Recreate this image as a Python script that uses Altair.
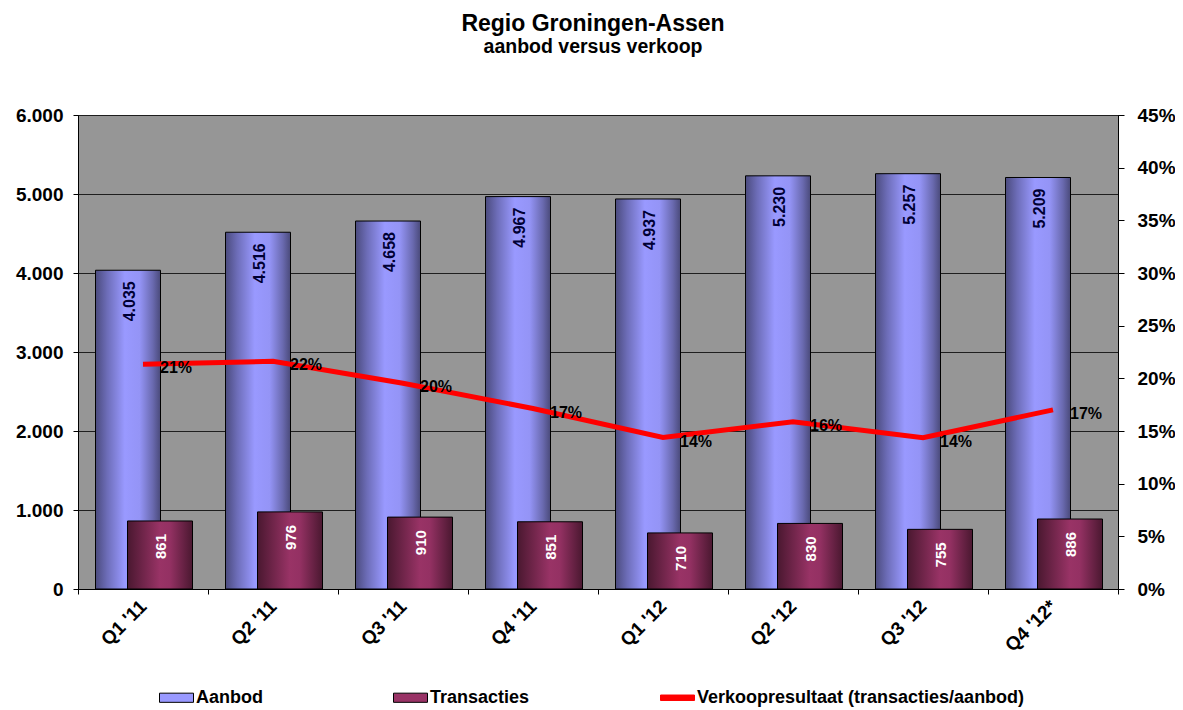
import altair as alt
import pandas as pd

# ---------------- data ----------------
categories = ["Q1 '11", "Q2 '11", "Q3 '11", "Q4 '11", "Q1 '12", "Q2 '12", "Q3 '12", "Q4 '12*"]
aanbod = [4035, 4516, 4658, 4967, 4937, 5230, 5257, 5209]
transacties = [861, 976, 910, 851, 710, 830, 755, 886]
series_names = ["Aanbod", "Transacties", "Verkoopresultaat (transacties/aanbod)"]
left_ticks = [0, 1000, 2000, 3000, 4000, 5000, 6000]
right_ticks = [0, 0.05, 0.10, 0.15, 0.20, 0.25, 0.30, 0.35, 0.40, 0.45]

df = pd.DataFrame({"cat": categories, "aanbod": aanbod, "transacties": transacties})
legend_df = pd.DataFrame({"series": series_names})

FONT = "Liberation Sans"
W, H = 1040, 474

grad_a = alt.Gradient(
    gradient="linear", x1=0, x2=1, y1=0, y2=0,
    stops=[
        alt.GradientStop(offset=0, color="#4b4b7e"),
        alt.GradientStop(offset=0.18, color="#6d6db8"),
        alt.GradientStop(offset=0.45, color="#9999ff"),
        alt.GradientStop(offset=0.68, color="#9494f6"),
        alt.GradientStop(offset=0.88, color="#6a6ab0"),
        alt.GradientStop(offset=1, color="#4a4a7a"),
    ],
)
grad_t = alt.Gradient(
    gradient="linear", x1=0, x2=1, y1=0, y2=0,
    stops=[
        alt.GradientStop(offset=0, color="#4a1830"),
        alt.GradientStop(offset=0.5, color="#993366"),
        alt.GradientStop(offset=0.65, color="#943163"),
        alt.GradientStop(offset=1, color="#4a1830"),
    ],
)

x_enc = alt.X(
    "cat:N", sort=categories,
    scale=alt.Scale(paddingInner=0, paddingOuter=0),
    axis=alt.Axis(
        title=None, labelAngle=315, labelAlign="right", labelBaseline="middle",
        tickBand="extent", tickSize=5, labelPadding=9, grid=False,
        domainColor="black", tickColor="black",
    ),
)

y_left_scale = alt.Scale(domain=[0, 6000], nice=False, zero=True)
y_right_scale = alt.Scale(domain=[0, 0.45], nice=False, zero=True)

left_axis = alt.Axis(
    title=None, values=left_ticks, orient="left",
    labelExpr="replace(format(datum.value, ','), ',', '.')",
    grid=True, gridColor="#1e1e1e", gridWidth=1, tickSize=5, labelPadding=10,
    domainColor="black", tickColor="black",
)
right_axis = alt.Axis(
    title=None, values=right_ticks, orient="right", format=".0%",
    grid=False, tickSize=6, labelPadding=13,
    domainColor="black", tickColor="black",
)

base = alt.Chart(df)

bars_a = base.mark_bar(fill=grad_a, stroke="black", strokeWidth=1, size=65, xOffset=-15).encode(
    x=x_enc,
    y=alt.Y("aanbod:Q", scale=y_left_scale, axis=left_axis),
)
bars_t = base.mark_bar(fill=grad_t, stroke="black", strokeWidth=1, size=65, xOffset=17).encode(
    x=x_enc,
    y=alt.Y("transacties:Q", scale=y_left_scale, axis=left_axis),
)
text_a = base.transform_calculate(
    lbl="replace(format(datum.aanbod, ','), ',', '.')"
).mark_text(
    angle=270, align="right", baseline="middle", dx=-11, dy=2, xOffset=-15,
    font=FONT, fontSize=16, fontWeight="bold", color="#000033",
).encode(
    x=x_enc, y=alt.Y("aanbod:Q", scale=y_left_scale, axis=left_axis), text="lbl:N",
)
text_t = base.transform_calculate(
    lbl="replace(format(datum.transacties, ','), ',', '.')"
).mark_text(
    angle=270, align="right", baseline="middle", dx=-13, dy=1, xOffset=17,
    font=FONT, fontSize=15, fontWeight="bold", color="white",
).encode(
    x=x_enc, y=alt.Y("transacties:Q", scale=y_left_scale, axis=left_axis), text="lbl:N",
)

left = alt.layer(bars_a, bars_t, text_a, text_t)

ratio_base = base.transform_calculate(
    ratio="datum.transacties / datum.aanbod",
).transform_calculate(
    plbl="format(datum.ratio, '.0%')"
)
line = ratio_base.mark_line(color="#ff0000", strokeWidth=5).encode(
    x=x_enc,
    y=alt.Y("ratio:Q", scale=y_right_scale, axis=right_axis),
)
pct_text = ratio_base.mark_text(
    align="left", baseline="middle", dx=17, dy=4,
    font=FONT, fontSize=16, fontWeight="bold", color="black",
).encode(
    x=x_enc, y=alt.Y("ratio:Q", scale=y_right_scale, axis=right_axis), text="plbl:N",
)

bar_path = "M-1,-0.27H1V0.27H-1Z"
line_path = "M-1,-0.16H1V0.16H-1Z"
leg = alt.Legend(
    title=None, orient="none", legendX=81, legendY=565, direction="horizontal",
    columns=3, columnPadding=128, labelFont=FONT, labelFontSize=18, labelFontWeight="bold",
    labelColor="black", labelOffset=2, symbolSize=1156, symbolStrokeWidth=1,
    symbolOpacity=1, padding=0, labelLimit=500,
)
legend_pts = alt.Chart(legend_df).mark_point(filled=True, opacity=0).encode(
    x=alt.value(0), y=alt.value(0),
    color=alt.Color("series:N", scale=alt.Scale(domain=series_names, range=["#9999ff", "#993366", "#ff0000"]), legend=leg),
    shape=alt.Shape("series:N", scale=alt.Scale(domain=series_names, range=[bar_path, bar_path, line_path]), legend=leg),
    stroke=alt.Stroke("series:N", scale=alt.Scale(domain=series_names, range=["#000000", "#000000", "#ff0000"]), legend=leg),
)

right = alt.layer(line, pct_text, legend_pts)

chart = alt.layer(left, right).resolve_scale(y="independent").properties(
    width=W, height=H,
    background="white",
    title=alt.TitleParams(
        text="Regio Groningen-Assen", subtitle="aanbod versus verkoop",
        font=FONT, fontSize=23, fontWeight="bold", color="black",
        subtitleFont=FONT, subtitleFontSize=19.5, subtitleFontWeight="bold", subtitleColor="black",
        subtitlePadding=2, anchor="middle", dx=-5, offset=50,
    ),
    autosize=alt.AutoSizeParams(type="none"),
    padding={"left": 70, "top": 107, "right": 57, "bottom": 120},
).configure_view(
    fill="#969696", stroke="black", strokeWidth=1,
).configure_axis(
    labelFont=FONT, labelFontSize=19, labelFontWeight="bold", labelColor="black",
)

chart.save("out.html", embed_options={"renderer": "svg", "actions": False})
